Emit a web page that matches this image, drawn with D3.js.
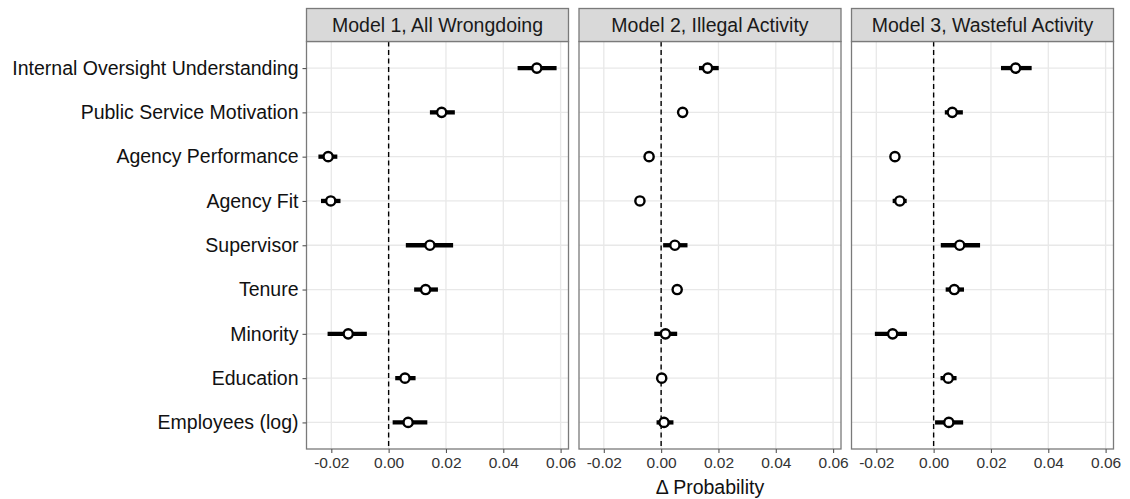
<!DOCTYPE html>
<html>
<head>
<meta charset="utf-8">
<script src="https://cdn.jsdelivr.net/npm/d3@7"></script>
<style>
  html, body { margin: 0; padding: 0; background: #fff; }
  svg { display: block; }
</style>
</head>
<body>
<svg id="chart" width="1130" height="499"></svg>
<script>
// Predictors, top to bottom
const categories = [
  "Internal Oversight Understanding",
  "Public Service Motivation",
  "Agency Performance",
  "Agency Fit",
  "Supervisor",
  "Tenure",
  "Minority",
  "Education",
  "Employees (log)"
];

const panelTitles = [
  "Model 1, All Wrongdoing",
  "Model 2, Illegal Activity",
  "Model 3, Wasteful Activity"
];

// Model 1: change in probability with 95% interval
const m1Est = [0.0517, 0.0185, -0.0211, -0.0202, 0.0144, 0.0129, -0.0141, 0.0057, 0.0068];
const m1Lo  = [0.0450, 0.0144, -0.0245, -0.0236, 0.0060, 0.0089, -0.0213, 0.0023, 0.0014];
const m1Hi  = [0.0586, 0.0231, -0.0179, -0.0168, 0.0225, 0.0172, -0.0076, 0.0094, 0.0135];

// Model 2
const m2Est = [0.0162, 0.0075, -0.0042, -0.0074, 0.0048, 0.0056, 0.0015, 0.0002, 0.0010];
const m2Lo  = [0.0132, 0.0062, -0.0054, -0.0086, 0.0007, 0.0044, -0.0024, -0.0010, -0.0016];
const m2Hi  = [0.0201, 0.0090, -0.0030, -0.0063, 0.0092, 0.0068, 0.0056, 0.0014, 0.0043];

// Model 3
const m3Est = [0.0286, 0.0065, -0.0135, -0.0118, 0.0091, 0.0072, -0.0143, 0.0051, 0.0053];
const m3Lo  = [0.0235, 0.0039, -0.0150, -0.0143, 0.0025, 0.0042, -0.0205, 0.0024, 0.0005];
const m3Hi  = [0.0342, 0.0102, -0.0120, -0.0094, 0.0162, 0.0106, -0.0093, 0.0080, 0.0103];

const xTicks = [-0.02, 0.00, 0.02, 0.04, 0.06];
const xTitle = "\u0394 Probability";

const models = [
  { title: panelTitles[0], est: m1Est, lo: m1Lo, hi: m1Hi },
  { title: panelTitles[1], est: m2Est, lo: m2Lo, hi: m2Hi },
  { title: panelTitles[2], est: m3Est, lo: m3Lo, hi: m3Hi }
];

// Layout
const panelW = 262;
const panelLefts = [306.5, 579, 851.5];
const stripTop = 8.5, stripBottom = 41.5;
const panelBottom = 449;
const font = "'Liberation Sans', Arial, Helvetica, sans-serif";

const svg = d3.select("#chart");

// Shared x domain, expanded by 5% on each side
const allVals = [].concat(m1Lo, m1Hi, m2Lo, m2Hi, m3Lo, m3Hi, m1Est, m2Est, m3Est);
const dMin = d3.min(allVals), dMax = d3.max(allVals);
const span = dMax - dMin;
const xDomain = [dMin - 0.05 * span, dMax + 0.05 * span];

const y = d3.scalePoint()
  .domain(categories)
  .range([stripBottom, panelBottom])
  .padding(0.6);

models.forEach((m, i) => {
  const left = panelLefts[i];
  const x = d3.scaleLinear().domain(xDomain).range([left, left + panelW]);
  const g = svg.append("g");

  // panel background
  g.append("rect")
    .attr("x", left).attr("y", stripBottom)
    .attr("width", panelW).attr("height", panelBottom - stripBottom)
    .attr("fill", "#fff");

  // grid lines
  g.selectAll("line.vgrid").data(xTicks).join("line")
    .attr("x1", d => x(d)).attr("x2", d => x(d))
    .attr("y1", stripBottom).attr("y2", panelBottom)
    .attr("stroke", "#e8e8e8").attr("stroke-width", 1.3);
  g.selectAll("line.hgrid").data(categories).join("line")
    .attr("x1", left).attr("x2", left + panelW)
    .attr("y1", d => y(d)).attr("y2", d => y(d))
    .attr("stroke", "#e8e8e8").attr("stroke-width", 1.3);

  // reference line at zero
  g.append("line")
    .attr("x1", x(0)).attr("x2", x(0))
    .attr("y1", stripBottom).attr("y2", panelBottom)
    .attr("stroke", "#000").attr("stroke-width", 1.4)
    .attr("stroke-dasharray", "5,3.5");

  // intervals
  g.selectAll("line.ci").data(categories).join("line")
    .attr("x1", (d, j) => x(m.lo[j])).attr("x2", (d, j) => x(m.hi[j]))
    .attr("y1", d => y(d)).attr("y2", d => y(d))
    .attr("stroke", "#000").attr("stroke-width", 4.3);

  // point estimates
  g.selectAll("circle.pt").data(categories).join("circle")
    .attr("cx", (d, j) => x(m.est[j])).attr("cy", d => y(d))
    .attr("r", 4.6)
    .attr("fill", "#fff").attr("stroke", "#000").attr("stroke-width", 2.4);

  // panel border
  g.append("rect")
    .attr("x", left).attr("y", stripBottom)
    .attr("width", panelW).attr("height", panelBottom - stripBottom)
    .attr("fill", "none").attr("stroke", "#7a7a7a").attr("stroke-width", 1.3);

  // strip
  g.append("rect")
    .attr("x", left).attr("y", stripTop)
    .attr("width", panelW).attr("height", stripBottom - stripTop)
    .attr("fill", "#d9d9d9").attr("stroke", "#7a7a7a").attr("stroke-width", 1.3);
  g.append("text")
    .attr("x", left + panelW / 2).attr("y", (stripTop + stripBottom) / 2)
    .attr("text-anchor", "middle").attr("dominant-baseline", "central")
    .attr("font-family", font).attr("font-size", 19.5)
    .attr("fill", "#1a1a1a")
    .text(m.title);

  // x axis
  const xAxis = d3.axisBottom(x).tickValues(xTicks).tickSize(4).tickPadding(4)
    .tickFormat(d3.format(".2f"));
  const ax = g.append("g")
    .attr("transform", `translate(0,${panelBottom})`)
    .call(xAxis);
  ax.select(".domain").remove();
  ax.selectAll(".tick line").attr("stroke", "#555").attr("stroke-width", 1.1);
  ax.selectAll(".tick text")
    .attr("font-family", font).attr("font-size", 15.5).attr("fill", "#333")
    .text(d => d3.format(".2f")(d).replace("\u2212", "-"));
});

// y axis on the first panel
const yAxis = d3.axisLeft(y).tickSize(4).tickPadding(4);
const ay = svg.append("g")
  .attr("transform", `translate(${panelLefts[0]},0)`)
  .call(yAxis);
ay.select(".domain").remove();
ay.selectAll(".tick line").attr("stroke", "#555").attr("stroke-width", 1.1);
ay.selectAll(".tick text")
  .attr("font-family", font).attr("font-size", 19.5).attr("fill", "#111");

// x axis title
svg.append("text")
  .attr("x", panelLefts[1] + panelW / 2).attr("y", 487)
  .attr("text-anchor", "middle").attr("dominant-baseline", "central")
  .attr("font-family", font).attr("font-size", 19.5).attr("fill", "#111")
  .text(xTitle);
</script>
</body>
</html>
